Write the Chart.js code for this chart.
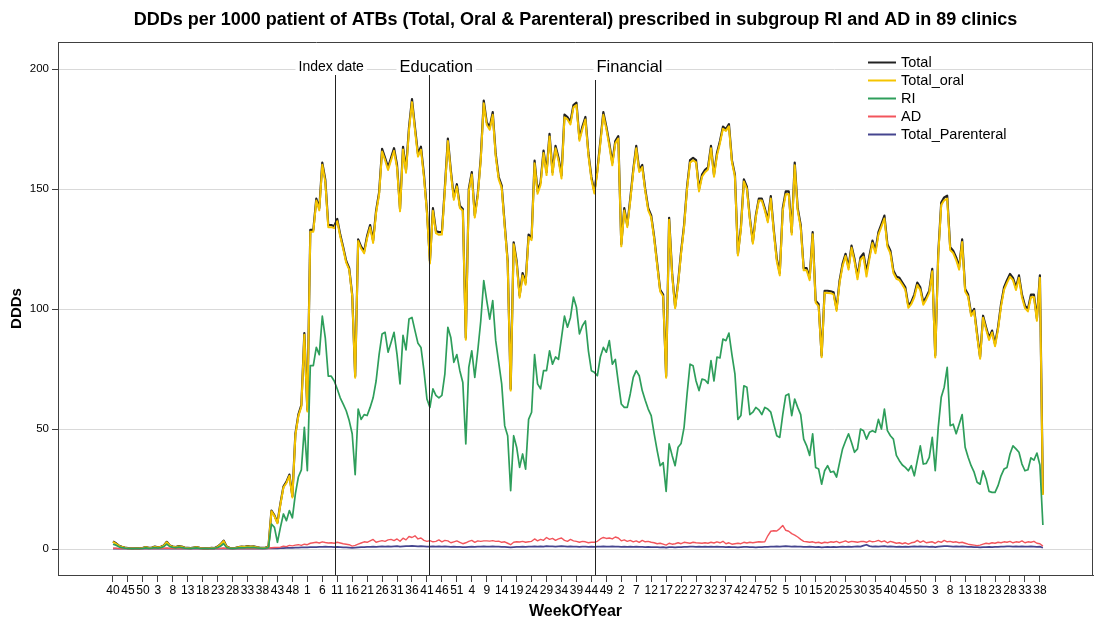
<!DOCTYPE html>
<html><head><meta charset="utf-8">
<script src="https://cdn.jsdelivr.net/npm/chart.js@4/dist/chart.umd.min.js"></script>
<style>html,body{margin:0;padding:0;background:#fff;overflow:hidden}canvas{display:block}</style>
</head><body>
<canvas id="c" width="1101" height="621"></canvas>
<script>
const chartTitle = 'DDDs per 1000 patient of ATBs (Total, Oral & Parenteral) prescribed in subgroup RI and AD in 89 clinics';
const tickLabels = ['40','45','50','3','8','13','18','23','28','33','38','43','48','1','6','11','16','21','26','31','36','41','46','51','4','9','14','19','24','29','34','39','44','49','2','7','12','17','22','27','32','37','42','47','52','5','10','15','20','25','30','35','40','45','50','3','8','13','18','23','28','33','38'];
const yTicks = [0,50,100,150,200];
const seriesNames = ['Total','Total_oral','RI','AD','Total_Parenteral'];

const total = [
3.2,2.4,1.4,0.9,0.6,0.4,0.3,0.3,0.4,0.3,
0.5,0.8,0.5,0.6,1.0,0.7,0.9,1.5,3.0,1.5,
1.0,0.8,1.2,1.0,0.6,0.5,0.4,0.6,0.8,0.5,
0.3,0.4,0.3,0.5,0.4,1.0,2.0,3.5,1.0,0.5,
0.4,0.5,0.8,1.0,0.9,1.2,1.0,1.1,0.8,0.6,
0.5,0.6,1.0,16,14,11,19,26,28,31,
22,48,56,60,90,58,133,133,146,142,
161,154,135,135,134.5,137.5,131,125.7,120,117,
106,72,129,126,124,130.5,135,128.5,141,148.6,
166.7,163,159,163,167,160,141.7,167.6,158,175.7,
187.5,175.7,164.6,167.6,156,141,120,142,132.6,132,
132,150.7,171,157.6,146.5,152,143,141.7,88,150,
157,139,148,163,186.8,177.8,175.7,182,164.6,155,
151.4,135.4,120,66.7,127.8,120,105.6,115,111,131,
129.7,161.8,149,152.8,166,157,173,157,168,163,
155.6,181,180,178,185,186,171,176,180,165,
155,149,158,170,182,176,169,161,170,172,
127,142,135,146,158,168,158,160,150,142,
139,130,119,108,106,72,138,115,101,111,
124,135,151,162,163,162,150,156,158,159,
168,156,165,170,176,175,177,162,156,123,
134,154,151,138,128,139,146,146,142,137,
147,133,121,115,142,149,149,132,161,142,
135,117,117,113,132,103.5,102,80.6,107.6,107.6,
107.4,107,100,111.8,118.8,123,117.4,126.4,120.8,113.5,
121.5,123.2,115.3,122.2,128.5,124.3,132,135.4,138.9,127,
124.3,116,113.5,113,111,109,101.4,103,106,111,
109,102.8,105,107.6,116.7,80.6,123,144.4,146.5,147.2,
125.7,124.3,121.5,117.4,129,108.3,106,98,100,89.6,
80,97.2,92.4,88,91,85.4,92.4,102,109,112,
114.6,113,109,114,106,101.4,100,106,106,96,
114,23];

const totalOral = [
3.0,2.2,1.3,0.8,0.5,0.3,0.2,0.2,0.3,0.2,
0.4,0.7,0.4,0.5,0.9,0.6,0.8,1.4,2.8,1.4,
0.9,0.7,1.1,0.9,0.5,0.4,0.3,0.5,0.7,0.4,
0.2,0.3,0.2,0.4,0.3,0.9,1.9,3.3,0.9,0.4,
0.3,0.4,0.7,0.9,0.8,1.1,0.9,1.0,0.7,0.5,
0.4,0.5,0.8,15.7,13.7,10.7,18.6,25.6,27.5,30.5,
21.5,47.4,55.4,59.3,89.3,57.3,132.2,132.2,145.2,141.1,
160.1,153,134.1,134.1,133.7,136.6,130.2,125,119.3,116.4,
105.5,71.4,128.3,125.2,123.2,129.6,134.1,127.5,140.1,147.6,
165.6,162,157.9,162,165.9,158.8,140.7,166.5,156.8,174.5,
186.2,174.5,163.5,166.4,154.9,140,119,140.9,131.6,130.9,
131,149.6,170,156.7,145.5,151.1,142.1,140.9,87.2,149.1,
156,138.1,147,162,185.7,176.8,174.7,180.9,163.6,154,
150.5,134.5,119.2,66,127,119.1,104.7,114,110.1,130,
128.7,160.7,148,151.7,165,155.8,171.9,155.9,167,161.9,
154.4,179.9,179,176.9,184,185,170.1,175,179,164.1,
154,148.1,157,169,180.9,175,168,159.9,169,171,
126.1,141,134.1,145,157.1,167,157.1,159.1,149.2,141.1,
138.2,129.2,118.2,107.3,105.2,71.4,137.2,114.2,100.3,110.2,
123.2,134.1,150.1,161,162,161.1,149,155.1,157,158.1,
167,155.1,164,169.1,175.1,174.2,176.1,161.2,155.2,122.3,
133.2,153.1,150.1,137.2,127.2,138.3,145.2,145.2,141.1,136.1,
146,132,119.9,114,140.9,147.8,147.9,131,159.9,141,
134,116.1,116.1,112,131.1,102.7,101.1,79.9,106.8,106.7,
106.6,106.1,99.2,110.9,117.8,122.1,116.4,125.5,119.8,112.4,
120.5,121.8,113.5,121,127.5,123.2,131,134.3,137.7,126,
123.2,115,112.6,112,110.1,108,100.5,102,104.9,110,
107.9,101.8,104,106.7,115.7,79.8,122,143.3,145.3,146,
124.6,123.3,120.4,116.4,127.9,107.3,105.1,97.1,99.2,88.8,
79.3,96.4,91.6,87.1,90.2,84.5,91.5,101,108,110.9,
113.5,112,107.9,113,104.9,100.4,99,104.9,105,95.1,
113,22.5];

const ri = [
2.0,1.6,0.9,0.6,0.4,0.3,0.2,0.2,0.3,0.2,
0.3,0.5,0.3,0.4,0.6,0.4,0.6,1.0,2.0,1.0,
0.7,0.5,0.8,0.6,0.4,0.3,0.3,0.4,0.5,0.3,
0.2,0.3,0.2,0.3,0.3,0.6,1.2,2.2,0.6,0.3,
0.3,0.3,0.5,0.6,0.5,0.7,0.6,0.7,0.5,0.4,
0.3,0.4,0.6,10.4,9,2.8,9,14.6,11.8,16,
13,23,30,33,50.7,32.6,76.4,76.4,84,81,
97,88,72,72,70,66.7,63,60.4,57.6,53.5,
48,31,58.3,54,56,55.6,59,63,70,81,
89.6,90.3,82,86,90.3,81,68.8,89,83,95.8,
96.5,91,85.7,84,74.3,62.5,59,66.7,64,63,
64,73,92.4,88,77.8,81,74.3,69.4,43.8,75.7,
82.6,71.5,82.6,95,111.8,103.5,95.8,103.5,86.8,77.8,
68.8,51.4,47.2,24.3,47.2,42.4,34,39.6,33.3,54,
57,81,68.8,66.7,74.3,74.3,82.6,77,80,79,
88,97,92.4,96.5,105,100.7,89.6,93,95,82.6,
74.3,73.6,72.2,80,84,82,86.8,77,79,69.4,
60.4,59,59,64.6,71.5,74.3,72.2,66,62,58.3,
55.6,48,41,34.7,36,24,43.8,39,34.7,42.4,
44,50.7,64.6,77,76.4,70,66,70.8,70.4,69,
78.5,70,80,79.6,87.5,86.8,90,81,73,54,
55.6,68,67.4,56,57,59,58,56,59,58.3,
57,52,47.2,46.5,56,64,64.6,55.6,62.5,59,
56,45.8,43,39,48,34,33.3,27,32.6,34.7,
32,32.4,30,36,41.7,45,48,44.4,40.3,41.7,
50,49.3,45.8,48.6,49.3,48.6,54,50,58.3,49.3,
47.2,45.8,39,36.8,35,34,32.6,34.7,30.5,36.8,
43,35.4,35.7,38.2,46.5,32.6,50.7,63.2,67.4,75.7,
51.4,52,48,52,56,42.4,38.2,34.7,32,27.8,
27,32.6,29.2,24,23.6,23.6,26.4,30.5,33.3,34,
39.6,43,41.7,40.3,35.4,32.6,33,38,37,40,
35,10];

const ad = [
0.3,0.3,0.2,0.2,0.2,0.2,0.2,0.2,0.2,0.2,
0.2,0.2,0.2,0.2,0.2,0.2,0.2,0.3,0.4,0.3,
0.2,0.2,0.3,0.2,0.2,0.2,0.2,0.2,0.2,0.2,
0.2,0.2,0.2,0.2,0.2,0.2,0.3,0.4,0.2,0.2,
0.2,0.2,0.2,0.2,0.2,0.3,0.2,0.3,0.2,0.2,
0.2,0.2,0.3,0.5,0.6,0.7,0.8,1.2,1.0,1.5,
1.3,1.6,1.8,1.5,2.0,1.8,2.4,2.6,2.8,2.5,
3.0,2.7,2.5,2.6,2.4,2.8,2.5,2.2,2.0,1.8,
1.2,1.5,2.0,2.5,3.0,2.8,3.4,4.0,2.8,3.2,
3.5,3.2,3.8,4.0,3.5,4.2,3.2,4.5,3.8,5.2,
4.8,5.5,4.2,4.6,3.6,3.2,3.5,3.0,3.2,3.8,
3.0,3.6,3.4,2.6,3.0,3.4,2.8,2.2,2.6,3.2,
3.6,2.8,3.4,3.2,3.4,3.4,3.3,3.5,3.2,3.3,
2.8,3.0,2.4,1.8,2.8,3.0,2.9,3.2,2.8,3.0,
3.2,4.2,3.4,4.0,3.6,4.8,4.0,4.4,3.6,4.2,
4.6,3.6,3.2,4.0,3.4,3.2,2.8,3.2,3.0,2.6,
2.8,2.8,3.2,4.2,4.8,4.4,4.6,4.2,5.0,4.6,
3.4,3.8,3.2,3.6,3.0,3.4,2.8,3.6,3.0,3.2,
2.8,2.6,2.2,2.4,2.0,1.6,2.4,2.0,2.2,2.6,
2.2,2.8,2.6,2.4,2.8,2.6,2.5,2.4,2.6,2.4,
2.8,2.5,3.0,2.6,3.2,2.2,2.6,2.0,2.2,2.4,
2.2,2.8,2.5,2.8,2.6,2.8,3.0,2.9,3.0,5.5,
7.4,7.6,7.5,8.5,9.8,7.8,7.4,6.4,5.8,5.0,
4.0,3.2,3.0,2.8,3.0,2.6,2.8,2.4,2.8,2.6,
3.0,2.8,3.2,2.6,3.0,3.4,2.8,3.2,3.0,2.8,
3.1,3.2,2.8,3.4,3.0,3.2,3.6,3.0,3.4,2.6,
3.2,2.8,2.4,2.6,2.2,2.6,2.0,2.6,2.8,3.6,
2.8,3.4,2.6,2.8,3.0,2.4,3.2,2.8,3.6,3.0,
3.2,2.8,3.0,2.6,2.8,2.4,2.0,1.8,1.6,1.4,
1.6,2.0,2.4,2.2,2.6,2.4,2.8,2.6,3.0,2.8,
3.2,2.6,3.0,2.8,3.4,2.6,3.0,2.8,3.2,2.4,
2.2,1.2];

const parenteral = [
0.2,0.2,0.1,0.1,0.1,0.1,0.1,0.1,0.1,0.1,
0.1,0.1,0.1,0.1,0.1,0.1,0.1,0.1,0.2,0.1,
0.1,0.1,0.1,0.1,0.1,0.1,0.1,0.1,0.1,0.1,
0.1,0.1,0.1,0.1,0.1,0.1,0.1,0.2,0.1,0.1,
0.1,0.1,0.1,0.1,0.1,0.1,0.1,0.1,0.1,0.1,
0.1,0.1,0.2,0.3,0.3,0.3,0.4,0.4,0.5,0.5,
0.5,0.6,0.6,0.7,0.7,0.7,0.8,0.8,0.8,0.9,
0.9,1.0,0.9,0.9,0.8,0.9,0.8,0.7,0.7,0.6,
0.5,0.6,0.7,0.8,0.8,0.9,0.9,1.0,0.9,1.0,
1.1,1.0,1.1,1.0,1.1,1.2,1.0,1.1,1.2,1.2,
1.3,1.2,1.1,1.2,1.1,1.0,1.0,1.1,1.0,1.1,
1.0,1.1,1.0,0.9,1.0,0.9,0.9,0.8,0.8,0.9,
1.0,0.9,1.0,1.0,1.1,1.0,1.0,1.1,1.0,1.0,
0.9,0.9,0.8,0.7,0.8,0.9,0.9,1.0,0.9,1.0,
1.0,1.1,1.0,1.1,1.0,1.2,1.1,1.1,1.0,1.1,
1.2,1.1,1.0,1.1,1.0,1.0,0.9,1.0,1.0,0.9,
1.0,0.9,1.0,1.0,1.1,1.0,1.0,1.1,1.0,1.0,
0.9,1.0,0.9,1.0,0.9,1.0,0.9,0.9,0.8,0.9,
0.8,0.8,0.8,0.7,0.8,0.6,0.8,0.8,0.7,0.8,
0.8,0.9,0.9,1.0,1.0,0.9,1.0,0.9,1.0,0.9,
1.0,0.9,1.0,0.9,0.9,0.8,0.9,0.8,0.8,0.7,
0.8,0.9,0.9,0.8,0.8,0.7,0.8,0.8,0.9,0.9,
1.0,1.0,1.1,1.0,1.1,1.2,1.1,1.0,1.1,1.0,
1.0,0.9,0.9,1.0,0.9,0.8,0.9,0.7,0.8,0.9,
0.8,0.9,0.8,0.9,1.0,0.9,1.0,0.9,1.0,1.1,
1.0,1.4,1.8,1.2,1.0,1.1,1.0,1.1,1.2,1.0,
1.1,1.0,0.9,1.0,0.9,1.0,0.9,1.0,1.1,1.0,
1.1,1.0,1.0,0.9,1.0,0.8,1.0,1.1,1.2,1.2,
1.1,1.0,1.1,1.0,1.1,1.0,0.9,0.9,0.8,0.8,
0.7,0.8,0.8,0.9,0.8,0.9,0.9,1.0,1.0,1.1,
1.1,1.0,1.1,1.0,1.1,1.0,1.0,1.1,1.0,0.9,
1.0,0.5];

// reference event lines (positions on the week-index axis) and their labels
const refLines = [74.4, 105.8, 161.2];
const refLabels = ['Index date', 'Education', 'Financial'];

const FAMILY = '"Liberation Sans", Arial, Helvetica, sans-serif';
Chart.defaults.font.family = FAMILY;
Chart.defaults.color = '#000';

const refStyle = [
  {size: 14, dx: -37, y: 67, lineTop: 75},
  {size: 16.5, dx: -30, y: 67, lineTop: 75},
  {size: 16.5, dx: 1, y: 67, lineTop: 80}
];
const colors = ['#222222', '#f5c400', '#2e9e5b', '#f2555c', '#45458f'];
const widths = [2.2, 2, 1.7, 1.4, 1.7];
const orders = [2, 1, 0, 0, 0];
const seriesData = [total, totalOral, ri, ad, parenteral];

const toXY = arr => arr.map((v, i) => ({x: i, y: v}));

const decor = {
  id: 'decor',
  afterDatasetsDraw(chart) {
    const {ctx, chartArea: a, scales: {x}} = chart;
    refLines.forEach((v, i) => {
      const st = refStyle[i];
      const px = Math.round(x.getPixelForValue(v)) + 0.5;
      ctx.save();
      ctx.font = st.size + 'px ' + FAMILY;
      const w = ctx.measureText(refLabels[i]).width;
      const tx = px + st.dx;
      ctx.fillStyle = '#fff';
      ctx.fillRect(tx - 3, st.y - st.size * 0.6, w + 6, st.size * 1.2);
      ctx.fillStyle = '#000';
      ctx.textBaseline = 'middle';
      ctx.textAlign = 'left';
      ctx.fillText(refLabels[i], tx, st.y);
      ctx.strokeStyle = '#222';
      ctx.lineWidth = 1;
      ctx.beginPath();
      ctx.moveTo(px, st.lineTop);
      ctx.lineTo(px, a.bottom);
      ctx.stroke();
      ctx.restore();
    });
  },
  afterDraw(chart) {
    const {ctx, chartArea: a} = chart;
    ctx.save();
    // frame (top & right)
    ctx.strokeStyle = '#404040';
    ctx.lineWidth = 1;
    ctx.beginPath();
    ctx.moveTo(a.left, a.top + 0.5);
    ctx.lineTo(a.right - 0.5, a.top + 0.5);
    ctx.lineTo(a.right - 0.5, a.bottom);
    ctx.stroke();
    // title
    ctx.fillStyle = '#000';
    ctx.font = 'bold 18px ' + FAMILY;
    ctx.textAlign = 'center';
    ctx.textBaseline = 'middle';
    ctx.fillText(chartTitle, (a.left + a.right) / 2, 20);
    // legend
    ctx.font = '14.5px ' + FAMILY;
    ctx.textAlign = 'left';
    chart.data.datasets.forEach((ds, i) => {
      const y = 62 + 18 * i;
      ctx.strokeStyle = ds.borderColor;
      ctx.lineWidth = 2;
      ctx.beginPath();
      ctx.moveTo(868, y + 0.5);
      ctx.lineTo(896, y + 0.5);
      ctx.stroke();
      ctx.fillStyle = '#000';
      ctx.fillText(ds.label, 901, y + 1);
    });
    ctx.restore();
  }
};

new Chart(document.getElementById('c'), {
  type: 'line',
  data: {
    datasets: seriesNames.map((name, i) => ({
      label: name,
      data: toXY(seriesData[i]),
      borderColor: colors[i],
      backgroundColor: colors[i],
      borderWidth: widths[i],
      pointRadius: 0,
      tension: 0,
      fill: false,
      borderJoinStyle: 'round',
      order: orders[i]
    }))
  },
  options: {
    responsive: false,
    animation: false,
    devicePixelRatio: 1,
    layout: {padding: {top: 42, right: 8, left: 0, bottom: 0}},
    plugins: {legend: {display: false}, tooltip: {enabled: false}, title: {display: false}},
    scales: {
      x: {
        type: 'linear',
        min: -18.39,
        max: 327.76,
        afterBuildTicks: s => { s.ticks = tickLabels.map((_, k) => ({value: 5 * k})); },
        afterFit: s => { s.height = 46; },
        ticks: {
          autoSkip: false, maxRotation: 0, minRotation: 0, padding: 1,
          font: {size: 12}, color: '#000',
          callback: v => tickLabels[Math.round(v / 5)] ?? ''
        },
        grid: {drawOnChartArea: false, drawTicks: true, tickLength: 7, tickColor: '#404040'},
        border: {color: '#404040'},
        title: {display: true, text: 'WeekOfYear', font: {size: 16, weight: 'bold'}, color: '#000', padding: {top: 0, bottom: 0}}
      },
      y: {
        type: 'linear',
        min: -10.83,
        max: 211.25,
        afterBuildTicks: s => { s.ticks = yTicks.map(v => ({value: v})); },
        afterFit: s => { s.width = 58; },
        ticks: {font: {size: 11.5}, color: '#000', padding: 3},
        grid: {color: '#d9d9d9', tickColor: '#404040', tickLength: 6},
        border: {color: '#404040'},
        title: {display: true, text: 'DDDs', font: {size: 15, weight: 'bold'}, color: '#000', padding: {top: 8, bottom: 0}}
      }
    }
  },
  plugins: [decor]
});
</script>
</body></html>
